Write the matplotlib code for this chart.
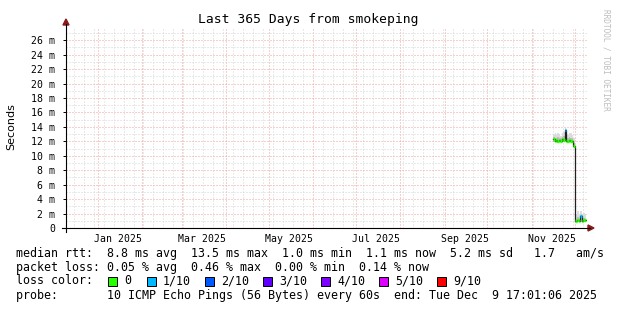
import datetime
import numpy as np
import pandas as pd
import matplotlib
matplotlib.use("Agg")
from matplotlib import pyplot as plt
import matplotlib.dates as mdates
from matplotlib.ticker import MultipleLocator, FuncFormatter
from matplotlib.patches import Polygon, Rectangle
from matplotlib.lines import Line2D
from matplotlib.transforms import blended_transform_factory

# graph window (365 days ending at the probe time)
end_time = datetime.datetime(2025, 12, 9, 17, 1, 6)
start_time = end_time - datetime.timedelta(days=365)

# daily consolidated samples, values in ms
days = pd.date_range("2025-11-17", periods=23, freq="D")
median_ms = [12.3, 12.1, 12.2, 12.0, 12.2, 12.1, 12.3, 12.2, 13.6, 12.1, 12.0, 12.2, 12.1, 12.0, 11.4,
             1.0, 1.0, 1.1, 1.0, 1.6, 1.0, 1.1, 1.1]
smoke_lo = [11.9, 11.9, 12.0, 11.8, 11.9, 11.9, 12.0, 11.9, 12.0, 11.9, 11.8, 11.9, 11.9, 11.8, 11.2,
            0.9, 0.9, 0.9, 0.9, 0.9, 0.9, 0.9, 0.9]
smoke_mid = [12.6, 12.5, 12.5, 12.6, 12.5, 12.4, 12.6, 12.7, 13.1, 12.5, 12.4, 12.6, 12.5, 12.4, 11.8,
             1.3, 1.2, 1.5, 1.3, 1.8, 1.2, 1.4, 1.3]
smoke_hi = [13.0, 13.1, 12.9, 13.2, 13.0, 12.8, 13.1, 13.3, 13.8, 13.0, 12.9, 13.2, 13.1, 12.9, 12.4,
            2.2, 1.9, 2.4, 2.0, 2.3, 1.8, 2.1, 2.0]
loss_idx = [0, 0, 0, 0, 0, 0, 0, 0, 1, 0, 0, 0, 0, 0, 0,
            0, 0, 0, 0, 1, 0, 0, 0]

loss_labels = ["0", "1/10", "2/10", "3/10", "4/10", "5/10", "9/10"]
loss_colors = ["#26ff00", "#00b8ff", "#0059ff", "#5e00ff", "#7e00ff", "#dd00ff", "#ff0000"]

month_labels = ["Jan 2025", "Mar 2025", "May 2025", "Jul 2025", "Sep 2025", "Nov 2025"]
month_label_dates = [datetime.datetime(2025, m, 15) for m in (1, 3, 5, 7, 9, 11)]

legend_lines = [
    "median rtt:  8.8 ms avg  13.5 ms max  1.0 ms min  1.1 ms now  5.2 ms sd   1.7   am/s",
    "packet loss: 0.05 % avg  0.46 % max  0.00 % min  0.14 % now",
    "loss color:",
    "probe:       10 ICMP Echo Pings (56 Bytes) every 60s  end: Tue Dec  9 17:01:06 2025",
]

W, H = 617, 310
MONO = "DejaVu Sans Mono"


def fx(x):
    return x / W


def fy(y):
    return 1 - y / H


fig = plt.figure(figsize=(W / 100, H / 100), dpi=100, facecolor="white")
L, R, T, B = 66, 587, 28, 228
ax = fig.add_axes([fx(L), fy(B), fx(R) - fx(L), fy(T) - fy(B)])
ax.set_facecolor("white")
ax.set_xlim(start_time, end_time)
ax.set_ylim(0, 27.7)
for s in ax.spines.values():
    s.set_visible(False)

# grid: months red, weeks grey
ax.xaxis.set_major_locator(mdates.MonthLocator())
ax.xaxis.set_minor_locator(mdates.WeekdayLocator(byweekday=mdates.SU))
ax.yaxis.set_major_locator(MultipleLocator(2))
ax.yaxis.set_minor_locator(MultipleLocator(1))
ax.grid(which="minor", color="#d4d4d4", ls=(0, (1, 2)), lw=0.72, zorder=0)
ax.grid(which="major", color="#eea0a0", ls=(0, (1, 2)), lw=0.72, zorder=0)
ax.set_axisbelow(True)
ax.yaxis.set_major_formatter(FuncFormatter(lambda v, p: "0" if v == 0 else f"{int(v)} m"))
ax.tick_params(axis="x", which="both", labelbottom=False, length=0)
ax.tick_params(axis="y", which="major", length=2, width=0.7, pad=6, labelsize=7.1, labelfontfamily=MONO)
ax.tick_params(axis="y", which="minor", length=0)

# smoke + median
t = mdates.date2num(days)
day = 1.0
x_edges = np.append(t - day, t[-1])
ext = lambda a: np.append(a, a[-1])
ax.fill_between(x_edges, ext(smoke_lo), ext(smoke_hi), step="post", color="#dcdcdc", lw=0, zorder=2)
ax.fill_between(x_edges, ext(smoke_lo), ext(smoke_mid), step="post", color="#bdbdbd", lw=0, zorder=2)
ax.step(x_edges, ext(median_ms), where="post", color="#202020", lw=0.9, zorder=3)
ax.hlines(median_ms, t - day, t, colors=[loss_colors[i] for i in loss_idx], lw=2.4, zorder=4)

# month labels at mid month
trans = blended_transform_factory(ax.transData, ax.transAxes)
for d, lab in zip(month_label_dates, month_labels):
    ax.text(mdates.date2num(d), (B - 239) / (B - T), lab, transform=trans, ha="center", va="center",
            fontsize=7.1, family=MONO)

# axis lines and arrows
fig.add_artist(Line2D([fx(62), fx(590)], [fy(B), fy(B)], color="black", lw=0.8))
fig.add_artist(Line2D([fx(L), fx(L)], [fy(232), fy(24)], color="black", lw=0.8))
fig.add_artist(Polygon([[fx(588), fy(225)], [fx(594), fy(228)], [fx(588), fy(231)]], closed=True,
                       color="#8b1a1a", transform=fig.transFigure))
fig.add_artist(Polygon([[fx(63), fy(25)], [fx(66), fy(19)], [fx(69), fy(25)]], closed=True,
                       color="#8b1a1a", transform=fig.transFigure))

# title, axis label, watermark
fig.text(fx(308), fy(19), "Last 365 Days from smokeping", ha="center", va="center", fontsize=9.4, family=MONO)
fig.text(fx(11), fy(127), "Seconds", ha="center", va="center", rotation=90, fontsize=8, family="DejaVu Sans")
fig.text(fx(606), fy(60), "RRDTOOL / TOBI OETIKER", ha="center", va="center", rotation=270,
         fontsize=5.6, family=MONO, color="#bdbdbd")

# legend
line_y = [254, 268, 281, 296]
for txt, y in zip(legend_lines, line_y):
    fig.text(fx(16), fy(y), txt, ha="left", va="center", fontsize=8.4, family=MONO)
box_x = [108, 147, 205, 263, 321, 379, 437]
for bx, lab, col in zip(box_x, loss_labels, loss_colors):
    fig.add_artist(Rectangle((fx(bx), fy(line_y[2] + 4.5)), 9 / W, 9 / H, transform=fig.transFigure,
                             facecolor=col, edgecolor="black", lw=0.7))
    fig.text(fx(bx + 16), fy(line_y[2]), lab, ha="left", va="center", fontsize=8.4, family=MONO)

fig.savefig("out.png", dpi=100, facecolor="white")
